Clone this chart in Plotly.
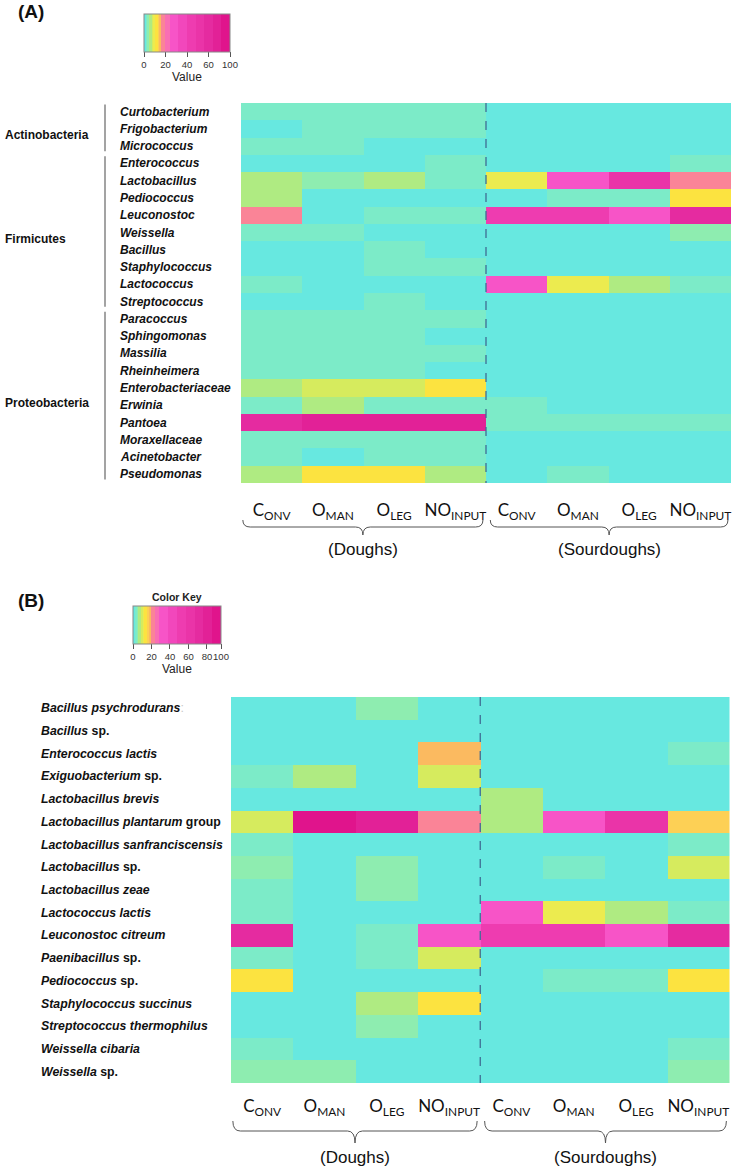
import plotly.graph_objects as go

W, H = 733, 1167

# ---------------- data ----------------
columns = ["C<sub>ONV</sub>", "O<sub>MAN</sub>", "O<sub>LEG</sub>", "NO<sub>INPUT</sub>"] * 2
groups = ["(Doughs)", "(Sourdoughs)"]

genera_a = ["Curtobacterium", "Frigobacterium", "Micrococcus", "Enterococcus", "Lactobacillus",
            "Pediococcus", "Leuconostoc", "Weissella", "Bacillus", "Staphylococcus", "Lactococcus",
            "Streptococcus", "Paracoccus", "Sphingomonas", "Massilia", "Rheinheimera",
            "Enterobacteriaceae", "Erwinia", "Pantoea", "Moraxellaceae", "Acinetobacter", "Pseudomonas"]
phyla_a = [("Actinobacteria", 0, 2), ("Firmicutes", 3, 11), ("Proteobacteria", 12, 21)]

# columns: Doughs C, O_MAN, O_LEG, NO_INPUT | Sourdoughs C, O_MAN, O_LEG, NO_INPUT
values_a = [
    [3, 3, 3, 3, 0.5, 0.5, 0.5, 0.5],
    [0.8, 3, 3, 3, 0.5, 0.5, 0.5, 0.5],
    [3, 3, 1, 1, 0.5, 0.5, 0.5, 0.5],
    [1, 1, 1, 3, 0.5, 0.5, 0.5, 2.5],
    [7, 5.5, 7.5, 3, 12, 35, 62, 22],
    [7.5, 0.5, 0.5, 0.5, 0.5, 3, 3, 14.5],
    [22, 0.5, 3, 3, 55, 55, 35, 72],
    [3, 3, 1, 1, 0.5, 0.5, 0.5, 5],
    [1, 1, 3, 1, 0.5, 0.5, 0.5, 0.5],
    [1, 1, 3, 3, 0.5, 0.5, 0.5, 0.5],
    [3, 1, 1, 1, 35, 12, 7.5, 3],
    [1, 1, 3, 1, 0.5, 0.5, 0.5, 0.5],
    [3, 3, 3, 3, 0.5, 0.5, 0.5, 0.5],
    [3, 3, 3, 1, 0.5, 0.5, 0.5, 0.5],
    [3, 3, 3, 3, 0.5, 0.5, 0.5, 0.5],
    [3, 3, 3, 1, 0.5, 0.5, 0.5, 0.5],
    [7.5, 10, 10, 14.5, 0.5, 0.5, 0.5, 0.5],
    [3, 7, 3, 3, 3, 0.5, 0.5, 0.5],
    [72, 88, 88, 88, 3, 3, 3, 3],
    [3, 3, 3, 3, 0.5, 0.5, 0.5, 0.5],
    [3, 1, 3, 3, 0.5, 0.5, 0.5, 0.5],
    [7.5, 14, 14.5, 7.5, 0.5, 3, 0.5, 0.5],
]

species_b = [
    "<b><i>Bacillus psychrodurans</i></b><span style='color:#c8c8c8'>:</span>",
    "<b><i>Bacillus</i> sp.</b>",
    "<b><i>Enterococcus lactis</i></b>",
    "<b><i>Exiguobacterium</i> sp.</b>",
    "<b><i>Lactobacillus brevis</i></b>",
    "<b><i>Lactobacillus plantarum</i> group</b>",
    "<b><i>Lactobacillus sanfranciscensis</i></b>",
    "<b><i>Lactobacillus</i> sp.</b>",
    "<b><i>Lactobacillus zeae</i></b>",
    "<b><i>Lactococcus lactis</i></b>",
    "<b><i>Leuconostoc citreum</i></b>",
    "<b><i>Paenibacillus</i> sp.</b>",
    "<b><i>Pediococcus</i> sp.</b>",
    "<b><i>Staphylococcus succinus</i></b>",
    "<b><i>Streptococcus thermophilus</i></b>",
    "<b><i>Weissella cibaria</i></b>",
    "<b><i>Weissella</i> sp.</b>",
]

values_b = [
    [0.5, 0.5, 5, 0.5, 0.5, 0.5, 0.5, 0.5],
    [0.5, 0.5, 0.5, 0.5, 0.5, 0.5, 0.5, 0.5],
    [0.5, 0.5, 0.5, 19, 0.5, 0.5, 0.5, 3],
    [3, 7.5, 0.5, 10, 0.5, 0.5, 0.5, 0.5],
    [0.5, 0.5, 0.5, 0.5, 7.5, 0.5, 0.5, 0.5],
    [10, 92, 82, 22, 7.5, 35, 60, 17],
    [3, 0.5, 0.5, 0.5, 0.5, 0.5, 0.5, 3],
    [5, 0.5, 5, 0.5, 0.5, 3, 0.5, 10],
    [3, 0.5, 5, 0.5, 0.5, 0.5, 0.5, 0.5],
    [3, 0.5, 0.5, 0.5, 35, 12, 7.5, 3],
    [75, 0.5, 3, 35, 55, 55, 35, 72],
    [3, 0.5, 3, 10, 0.5, 0.5, 0.5, 0.5],
    [14.5, 0.5, 0.5, 0.5, 0.5, 3, 3, 14.5],
    [0.5, 0.5, 7.5, 14.5, 0.5, 0.5, 0.5, 0.5],
    [0.5, 0.5, 5.5, 0.5, 0.5, 0.5, 0.5, 0.5],
    [3, 0.5, 0.5, 0.5, 0.5, 0.5, 0.5, 3],
    [5, 5, 0.5, 0.5, 0.5, 0.5, 0.5, 5],
]

key_ticks_a = ([0, 25, 50, 75, 100], ["0", "20", "40", "60", "100"])
key_ticks_b = ([0, 21, 42, 63, 84, 100], ["0", "20", "40", "60", "80", "100"])

# ---------------- colour key (stepped) ----------------
bin_edges = [0, 2, 4, 6, 9, 11, 13, 16, 18, 20, 25, 30, 40, 50, 60, 70, 80, 90, 100]
bin_colors = ["#67E8E0", "#7CEBC8", "#8EEDB0", "#AFEB82", "#D6EB5E", "#ECEB4F", "#FCE340",
              "#FDD055", "#FBBA60", "#FA8497", "#F96EB4", "#F754C7", "#F247BC", "#EE3CB0",
              "#EA34A8", "#E52BA0", "#E22197", "#E0148C"]
colorscale = []
for i, c in enumerate(bin_colors):
    colorscale.append([bin_edges[i] / 100, c])
    colorscale.append([bin_edges[i + 1] / 100, c])


def px_x(p):
    return p / W


def px_y(p):
    return 1 - p / H


FONT = "Liberation Sans, Arial, sans-serif"
TICKFONT = "Lato, Carlito, sans-serif"

fig = go.Figure()

panels = [
    dict(tag="(A)", tag_y=12, values=values_a, labels=[f"<b><i>{g}</i></b>" for g in genera_a],
         xa="x", ya="y", xk="xaxis", yk="yaxis", ca="coloraxis",
         left=241, right=731, top=103, bottom=483, label_x=118, label_size=12,
         key=dict(x0=144, x1=230, top=14), key_ticks=key_ticks_a, value_y=77, key_title=None,
         brace=(520, 527, 535), group_y=550, ticklen=12),
    dict(tag="(B)", tag_y=600, values=values_b, labels=species_b,
         xa="x2", ya="y2", xk="xaxis2", yk="yaxis2", ca="coloraxis2",
         left=231, right=729.5, top=697, bottom=1083, label_x=39, label_size=12.3,
         key=dict(x0=133, x1=221, top=606), key_ticks=key_ticks_b, value_y=669, key_title=597,
         brace=(1121, 1131, 1143), group_y=1157, ticklen=8),
]

layout = dict(width=W, height=H, margin=dict(l=0, r=0, t=0, b=0),
              paper_bgcolor="white", plot_bgcolor="white", showlegend=False)
annotations = []
shapes = []

for p in panels:
    n = len(p["values"])
    fig.add_trace(go.Heatmap(z=p["values"], x=list(range(8)), y=list(range(n)),
                             coloraxis=p["ca"], xaxis=p["xa"], yaxis=p["ya"], hoverinfo="skip"))
    layout[p["xk"]] = dict(domain=[px_x(p["left"]), px_x(p["right"])], anchor=p["ya"],
                           range=[-0.5, 7.5], tickmode="array", tickvals=list(range(8)),
                           ticktext=columns,
                           showgrid=False, zeroline=False, showline=False, tickangle=0,
                           ticklabeloverflow="allow",
                           ticks="outside", ticklen=p["ticklen"], tickcolor="rgba(0,0,0,0)",
                           tickfont=dict(family=TICKFONT, size=17, color="#111"))
    layout[p["yk"]] = dict(domain=[px_y(p["bottom"]), px_y(p["top"])], anchor=p["xa"],
                           range=[n - 0.5, -0.5], showticklabels=False, showgrid=False,
                           zeroline=False, showline=False, ticks="")
    k = p["key"]
    kx = px_x((k["x0"] + k["x1"]) / 2)
    layout[p["ca"]] = dict(
        colorscale=colorscale, cmin=0, cmax=100,
        colorbar=dict(orientation="h", lenmode="pixels", len=k["x1"] - k["x0"],
                      thicknessmode="pixels", thickness=38,
                      x=kx, xanchor="center",
                      y=px_y(k["top"]), yanchor="top", xpad=0, ypad=0,
                      tickmode="array",
                      tickvals=p["key_ticks"][0], ticktext=p["key_ticks"][1],
                      tickangle=0, ticklabeloverflow="allow",
                      ticks="outside", ticklen=5, tickcolor="#555",
                      tickfont=dict(family=FONT, size=9.5, color="#333"),
                      outlinewidth=1, outlinecolor="#888"))
    annotations.append(dict(text="Value", x=kx, y=px_y(p["value_y"]),
                            xref="paper", yref="paper", xanchor="center", yanchor="middle",
                            showarrow=False, font=dict(family=FONT, size=12, color="#222")))
    if p["key_title"]:
        annotations.append(dict(text="<b>Color Key</b>", x=kx,
                                y=px_y(p["key_title"]), xref="paper", yref="paper",
                                xanchor="center", yanchor="middle",
                                showarrow=False, font=dict(family=FONT, size=10.5, color="#222")))
    # panel tag
    annotations.append(dict(text=f"<b>{p['tag']}</b>", x=px_x(16), y=px_y(p["tag_y"]),
                            xref="paper", yref="paper", xanchor="left", yanchor="middle",
                            showarrow=False, font=dict(family=FONT, size=19, color="#111")))
    # row labels
    for i, lab in enumerate(p["labels"]):
        annotations.append(dict(text=lab, x=px_x(p["label_x"]), y=i, xref="paper", yref=p["ya"],
                                xanchor="left", yanchor="middle", showarrow=False,
                                font=dict(family=FONT, size=p["label_size"], color="#111")))
    # dashed separator
    shapes.append(dict(type="line", x0=3.5, x1=3.5, y0=-0.5, y1=n - 0.5, xref=p["xa"], yref=p["ya"],
                       line=dict(color="#3f6d94", width=1.3, dash="dash")))
    # braces
    ytop, yline, ytip = (px_y(v) for v in p["brace"])
    for (x0, x1), g in zip([(-0.47, 3.45), (3.57, 7.45)], groups):
        xm = (x0 + x1) / 2
        d = 0.12
        path = (f"M {x0},{ytop} Q {x0},{yline} {x0 + d},{yline} L {xm - d},{yline} "
                f"Q {xm},{yline} {xm},{ytip} Q {xm},{yline} {xm + d},{yline} "
                f"L {x1 - d},{yline} Q {x1},{yline} {x1},{ytop}")
        shapes.append(dict(type="path", path=path, xref=p["xa"], yref="paper",
                           line=dict(color="#555", width=1)))
        annotations.append(dict(text=g, x=xm, y=px_y(p["group_y"]), xref=p["xa"], yref="paper",
                                xanchor="center", yanchor="middle",
                                showarrow=False, font=dict(family=FONT, size=17, color="#111")))

# phylum brackets for panel A
for name, r0, r1 in phyla_a:
    shapes.append(dict(type="line", x0=px_x(105), x1=px_x(105), y0=r0 - 0.42, y1=r1 + 0.3,
                       xref="paper", yref="y", line=dict(color="#666", width=1.2)))
    annotations.append(dict(text=f"<b>{name}</b>", x=px_x(3), y=(r0 + r1) / 2 + 0.35,
                            xref="paper", yref="y", xanchor="left", yanchor="middle",
                            showarrow=False, font=dict(family=FONT, size=12, color="#111")))

layout["annotations"] = annotations
layout["shapes"] = shapes
fig.update_layout(**layout)
fig.write_html("out.html", config={"displayModeBar": False},
               post_script="document.body.style.margin='0';document.body.style.padding='0';")
